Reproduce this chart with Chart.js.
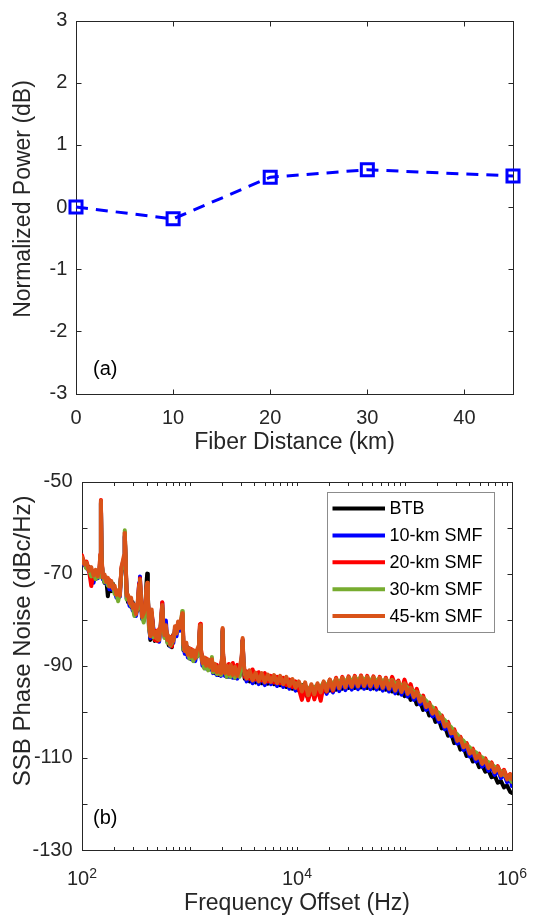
<!DOCTYPE html>
<html><head><meta charset="utf-8">
<script src="https://cdn.jsdelivr.net/npm/chart.js@4.4.1/dist/chart.umd.min.js"></script>
<style>
html,body{margin:0;padding:0;background:#fff;}
.wrap{position:absolute;left:0;width:536px;height:460px;}
#wrapA{top:0}
#wrapB{top:460px}
canvas{display:block}
</style></head><body>
<div class="wrap" id="wrapA"><canvas id="cA" width="536" height="460"></canvas></div>
<div class="wrap" id="wrapB"><canvas id="cB" width="536" height="460"></canvas></div>
<script>
// ---------- Panel (a) data ----------
const fiberKm = [0, 10, 20, 30, 45];
const normPowerDb = [0, -0.19, 0.48, 0.60, 0.50];
const xTicksA = [0, 10, 20, 30, 40];
const yTicksA = [-3, -2, -1, 0, 1, 2, 3];
const xTitleA = 'Fiber Distance (km)';
const yTitleA = 'Normalized Power (dB)';
const panelLabelA = '(a)';

// ---------- Panel (b) data ----------
const freqHz = [
100,105,110,116,122,128,134,140,145,148,
150,152,156,162,168,174,180,187,194,201,
209,217,225,233,240,246,250,254,260,268,
277,286,296,307,318,330,340,346,352,362,
375,388,398,404,410,420,432,445,460,475,
490,506,522,538,550,558,568,585,603,622,
642,663,685,708,732,757,783,810,838,856,
866,878,905,935,965,1000,1040,1085,1130,1180,
1225,1250,1262,1275,1320,1375,1430,1490,1550,1595,
1615,1650,1720,1800,1880,1960,2010,2032,2055,2130,
2220,2320,2420,2530,2650,2780,2920,3060,3120,3180,
3260,3400,3620,3860,4120,4400,4700,5020,5360,5720,
6110,6530,6970,7450,7960,8500,9080,9700,10400,11100,
11900,12700,13600,14500,15500,16600,17700,18900,20200,21600,
23100,24700,26400,28200,30200,32300,34500,36900,39400,42100,
45000,48100,51400,55000,58800,62800,67100,71800,76700,82000,
87600,93700,100000,107000,114000,122000,130000,139000,149000,159000,
170000,182000,194000,208000,222000,237000,254000,271000,290000,310000,
331000,354000,378000,404000,432000,462000,494000,528000,564000,603000,
645000,689000,737000,788000,842000,900000,962000,1000000];

const pnBTB = [
-67.0,-67.4,-68.8,-68.6,-70.2,-69.6,-71.2,-70.0,-70.6,-67.0,
-54.8,-67.2,-70.4,-72.0,-71.2,-74.9,-72.0,-73.8,-72.2,-74.0,
-73.8,-75.4,-73.6,-69.5,-68.6,-67.2,-62.0,-67.0,-74.0,-76.2,
-75.6,-77.2,-76.2,-78.8,-77.4,-78.0,-73.4,-71.9,-75.6,-78.4,
-80.2,-77.6,-72.0,-70.0,-75.0,-80.0,-84.4,-79.0,-82.4,-84.6,
-82.8,-84.6,-82.6,-82.4,-79.3,-77.5,-81.2,-82.4,-83.0,-83.2,
-85.6,-83.8,-86.0,-83.2,-83.6,-81.8,-82.0,-80.8,-81.4,-79.5,
-81.4,-86.6,-85.6,-87.4,-86.0,-88.4,-86.8,-88.8,-87.0,-88.0,
-86.3,-82.2,-82.0,-87.0,-88.4,-90.4,-88.8,-90.6,-89.0,-90.4,
-89.5,-90.0,-91.6,-90.2,-92.0,-90.6,-88.8,-82.6,-88.3,-90.8,
-92.4,-90.6,-92.4,-90.4,-92.6,-91.0,-92.2,-88.9,-84.6,-89.8,
-92.8,-91.6,-93.4,-91.8,-93.6,-92.0,-93.8,-92.2,-93.9,-92.6,
-94.0,-92.8,-94.2,-93.0,-94.6,-93.2,-95.0,-93.6,-95.4,-94.2,
-95.8,-97.0,-95.6,-94.6,-96.0,-94.4,-95.6,-94.2,-95.4,-93.8,
-95.2,-93.6,-95.0,-93.4,-94.8,-93.3,-94.8,-93.2,-94.7,-93.2,
-94.8,-93.3,-94.9,-93.4,-95.0,-93.6,-95.2,-93.9,-95.6,-94.4,
-96.0,-94.8,-96.6,-95.6,-97.4,-96.4,-98.4,-97.6,-99.6,-98.8,
-100.8,-100.2,-102.2,-101.6,-103.6,-103.0,-105.2,-104.6,-106.8,-106.2,
-108.2,-107.6,-109.6,-109.0,-110.8,-110.2,-112.0,-111.6,-113.0,-112.6,
-114.2,-113.8,-115.4,-115.0,-116.4,-116.0,-117.4,-117.6];

const pnSMF10 = [
-66.9,-68.2,-68.0,-69.6,-69.4,-72.0,-70.0,-71.0,-70.4,-66.6,
-54.5,-66.9,-71.2,-71.0,-72.2,-71.8,-73.4,-72.6,-73.6,-73.4,
-75.2,-74.4,-75.0,-69.0,-68.3,-67.0,-61.8,-66.6,-75.4,-75.2,
-77.0,-75.8,-78.0,-77.6,-79.2,-76.6,-72.0,-70.6,-75.2,-79.8,
-79.2,-77.5,-73.8,-72.8,-76.2,-81.4,-84.0,-78.8,-81.6,-83.6,
-84.2,-82.9,-84.8,-81.6,-79.0,-76.3,-80.0,-83.8,-80.2,-84.8,
-84.2,-85.8,-84.4,-85.0,-82.0,-83.6,-81.0,-82.4,-80.4,-79.2,
-81.0,-85.9,-87.4,-85.6,-88.2,-86.8,-88.6,-87.2,-89.0,-87.0,
-86.0,-82.0,-81.8,-86.9,-90.0,-88.8,-90.6,-89.2,-90.8,-89.6,
-89.3,-91.6,-90.2,-92.0,-90.8,-92.2,-88.6,-82.3,-88.0,-92.2,
-90.6,-92.4,-90.4,-92.6,-90.8,-92.8,-91.2,-88.6,-84.5,-89.6,
-91.8,-93.4,-91.6,-93.8,-92.0,-94.0,-92.2,-94.2,-92.5,-94.0,
-92.6,-94.4,-92.8,-94.6,-93.0,-95.0,-93.5,-95.4,-94.0,-96.2,
-94.2,-96.8,-94.6,-96.8,-94.4,-96.4,-94.0,-96.1,-93.6,-95.8,
-93.4,-95.5,-93.2,-95.3,-93.1,-95.2,-93.0,-95.1,-92.9,-95.0,
-93.0,-95.1,-93.1,-95.2,-93.2,-95.4,-93.4,-95.6,-93.8,-96.0,
-94.1,-96.3,-94.4,-96.7,-95.4,-97.4,-96.2,-98.4,-97.5,-99.6,
-98.9,-101.0,-100.2,-102.2,-101.7,-103.8,-103.2,-105.3,-104.8,-106.9,
-106.3,-108.3,-107.7,-109.7,-108.9,-110.8,-110.0,-111.9,-111.0,-112.8,
-111.8,-113.7,-112.6,-114.4,-113.4,-115.3,-114.2,-116.1];

const pnSMF20 = [
-66.0,-67.8,-67.4,-69.2,-72.7,-69.8,-70.8,-69.6,-70.0,-65.8,
-54.0,-66.3,-70.4,-70.6,-71.4,-71.2,-71.4,-72.0,-72.6,-73.2,
-74.0,-75.0,-74.0,-68.8,-67.6,-66.6,-61.0,-66.4,-74.2,-75.4,
-75.8,-76.8,-76.6,-78.0,-78.2,-76.6,-72.2,-71.0,-74.4,-78.8,
-80.0,-77.2,-73.4,-72.3,-75.8,-80.2,-83.2,-78.4,-82.2,-84.4,
-82.4,-84.6,-82.0,-82.4,-78.7,-76.2,-81.2,-82.4,-82.0,-83.4,
-85.2,-83.8,-85.8,-83.4,-82.8,-81.4,-81.6,-81.0,-80.8,-79.0,
-80.9,-85.0,-86.4,-86.2,-86.8,-87.6,-86.4,-88.4,-86.8,-87.6,
-85.9,-81.0,-80.9,-86.2,-88.8,-89.8,-88.4,-90.2,-88.8,-90.0,
-89.0,-90.2,-91.2,-89.8,-91.8,-90.4,-88.3,-82.0,-87.8,-90.2,
-91.6,-89.6,-91.6,-89.4,-92.0,-89.8,-91.8,-88.4,-84.3,-89.4,
-92.4,-91.2,-92.8,-90.8,-93.0,-91.4,-93.2,-91.6,-93.4,-92.2,
-93.6,-92.4,-93.8,-92.6,-94.2,-93.0,-94.6,-93.4,-95.0,-97.4,
-94.8,-97.5,-94.6,-97.3,-95.0,-97.6,-94.2,-95.6,-93.0,-95.4,
-92.6,-94.8,-92.4,-94.6,-92.3,-94.5,-92.2,-94.4,-92.1,-94.3,
-92.2,-94.4,-92.3,-94.5,-92.4,-94.6,-92.6,-94.8,-92.4,-94.2,
-93.2,-95.4,-93.0,-95.2,-94.0,-96.4,-95.0,-97.4,-96.5,-98.6,
-98.0,-99.8,-99.2,-101.0,-100.8,-102.6,-102.2,-104.0,-103.8,-105.6,
-105.4,-107.0,-106.8,-108.4,-108.0,-109.6,-109.1,-110.7,-110.1,-111.6,
-111.0,-112.6,-111.8,-113.4,-112.6,-114.3,-113.5,-115.2];

const pnSMF30 = [
-66.9,-67.6,-68.9,-69.0,-70.6,-69.8,-71.2,-70.2,-70.8,-66.4,
-54.6,-67.0,-70.4,-71.8,-70.8,-72.6,-72.0,-72.0,-72.4,-74.4,
-74.4,-76.0,-74.0,-69.2,-68.4,-67.0,-60.6,-66.5,-75.6,-75.0,
-75.6,-77.0,-77.2,-79.2,-78.4,-77.6,-73.0,-71.8,-75.8,-79.2,
-80.6,-77.8,-73.8,-72.7,-76.4,-82.0,-83.4,-79.0,-83.8,-83.6,
-83.4,-84.2,-83.6,-82.2,-79.4,-77.3,-81.3,-84.0,-81.8,-85.0,
-84.8,-85.6,-85.0,-84.4,-82.4,-82.8,-81.2,-81.2,-80.2,-78.1,
-81.2,-86.4,-86.6,-86.8,-87.4,-88.4,-87.2,-89.0,-87.6,-88.0,
-86.5,-82.3,-82.0,-87.2,-89.0,-90.6,-89.2,-91.0,-89.6,-90.2,
-88.1,-91.4,-90.6,-91.8,-91.4,-92.0,-88.9,-82.4,-88.4,-91.0,
-92.4,-90.6,-92.4,-90.8,-92.6,-91.0,-92.4,-88.9,-84.8,-89.9,
-91.8,-92.4,-92.0,-92.6,-92.2,-92.8,-92.4,-93.0,-92.6,-93.2,
-92.8,-93.4,-93.0,-93.6,-93.2,-93.8,-93.4,-94.0,-93.8,-94.4,
-94.6,-95.0,-94.4,-94.8,-94.2,-94.6,-93.6,-94.4,-93.2,-94.0,
-93.0,-93.6,-92.8,-93.4,-92.6,-93.3,-92.5,-93.2,-92.4,-93.1,
-92.5,-93.2,-92.6,-93.3,-92.7,-93.5,-92.9,-93.7,-93.1,-94.0,
-93.6,-94.4,-94.0,-94.8,-95.0,-95.6,-95.8,-96.6,-97.0,-97.6,
-98.4,-99.0,-99.8,-100.2,-101.3,-101.8,-102.8,-103.3,-104.4,-104.9,
-105.9,-106.3,-107.3,-107.7,-108.5,-108.8,-109.6,-109.9,-110.6,-110.9,
-111.5,-111.9,-112.5,-112.9,-113.7,-114.1,-114.7,-115.2];

const pnSMF45 = [
-66.4,-68.0,-67.6,-69.4,-68.6,-70.4,-69.2,-70.6,-69.0,-66.0,
-54.2,-66.5,-70.8,-70.2,-71.8,-70.9,-72.8,-71.6,-73.2,-72.6,
-74.6,-73.6,-74.8,-68.5,-67.2,-66.0,-61.2,-65.8,-74.8,-74.6,
-76.4,-75.2,-77.4,-76.8,-78.8,-76.0,-72.5,-71.2,-74.8,-79.4,
-78.6,-77.0,-73.0,-72.0,-75.5,-81.0,-83.6,-77.8,-83.2,-82.6,
-84.0,-82.4,-84.4,-81.2,-78.5,-76.8,-80.5,-83.4,-81.2,-84.4,
-83.6,-85.4,-83.8,-84.6,-81.4,-83.0,-80.4,-81.8,-79.8,-78.6,
-80.5,-85.4,-86.8,-85.0,-87.6,-86.2,-88.0,-86.6,-88.4,-86.4,
-85.5,-81.4,-81.2,-86.4,-89.4,-88.2,-90.0,-88.6,-90.2,-89.0,
-88.6,-91.0,-89.6,-91.4,-90.2,-91.6,-88.0,-81.8,-87.5,-91.6,
-90.0,-91.8,-89.8,-92.0,-90.2,-92.2,-90.6,-88.0,-84.0,-89.0,
-91.2,-92.8,-91.0,-93.2,-91.5,-93.4,-91.6,-93.6,-91.9,-93.5,
-92.0,-93.8,-92.2,-94.0,-92.4,-94.4,-92.9,-94.8,-93.4,-95.6,
-93.6,-96.4,-94.0,-96.2,-93.8,-95.8,-93.4,-95.5,-93.0,-95.2,
-92.8,-94.9,-92.6,-94.7,-92.5,-94.6,-92.4,-94.5,-92.3,-94.4,
-92.4,-94.5,-92.5,-94.6,-92.6,-94.8,-92.8,-95.0,-93.2,-95.4,
-93.5,-95.7,-93.8,-96.1,-94.8,-96.8,-95.6,-97.8,-96.9,-99.0,
-98.3,-100.4,-99.6,-101.6,-101.1,-103.2,-102.6,-104.7,-104.2,-106.3,
-105.7,-107.7,-107.1,-109.1,-108.3,-110.2,-109.4,-111.3,-110.4,-112.2,
-111.2,-113.1,-112.0,-113.8,-112.8,-114.7,-113.6,-114.6];

const seriesNames = ['BTB', '10-km SMF', '20-km SMF', '30-km SMF', '45-km SMF'];
const seriesColors = ['#000000', '#0000FF', '#FF0000', '#77AC30', '#D95319'];
const xTicksB = [100, 10000, 1000000];
const xTickBaseB = '10';
const xTickExpB = ['2', '4', '6'];
const yTicksB = [-130, -120, -110, -100, -90, -80, -70, -60, -50];
const yTickLabelsB = ['-130', '', '-110', '', '-90', '', '-70', '', '-50'];
const xTitleB = 'Frequency Offset (Hz)';
const yTitleB = 'SSB Phase Noise (dBc/Hz)';
const panelLabelB = '(b)';

// ---------- styling ----------
const FONT = "'Liberation Sans', Arial, Helvetica, sans-serif";
const AX = '#262626';
const TICK_SIZE = 20, TITLE_SIZE = 23, LEG_SIZE = 18;

function px(v){ return Math.round(v) + 0.5; }

function drawFrame(chart, xTickVals, xLen, yTickVals, yLen){
  const {ctx, chartArea: a, scales: {x, y}} = chart;
  ctx.save();
  ctx.strokeStyle = AX; ctx.lineWidth = 1;
  const L = px(a.left), R = px(a.right), T = px(a.top), B = px(a.bottom);
  ctx.beginPath();
  xTickVals.forEach(v => {
    const p = px(x.getPixelForValue(v));
    ctx.moveTo(p, B); ctx.lineTo(p, B - xLen);
    ctx.moveTo(p, T); ctx.lineTo(p, T + xLen);
  });
  yTickVals.forEach(v => {
    const p = px(y.getPixelForValue(v));
    ctx.moveTo(L, p); ctx.lineTo(L + yLen, p);
    ctx.moveTo(R, p); ctx.lineTo(R - yLen, p);
  });
  ctx.stroke();
  ctx.strokeRect(L, T, R - L, B - T);
  ctx.restore();
}

function drawYTitle(ctx, text, size, cx, cy){
  ctx.save();
  ctx.translate(cx, cy); ctx.rotate(-Math.PI / 2);
  ctx.font = size + 'px ' + FONT;
  ctx.fillStyle = AX; ctx.textAlign = 'center'; ctx.textBaseline = 'middle';
  ctx.fillText(text, 0, 0);
  ctx.restore();
}

// ---------- Chart (a) ----------
const pluginA = {
  id: 'frameA',
  beforeDatasetsDraw(chart){ drawFrame(chart, xTicksA, 5, yTicksA, 5); },
  afterDraw(chart){
    const ctx = chart.ctx;
    drawYTitle(ctx, yTitleA, TITLE_SIZE, 23.5, 199);
    ctx.save();
    ctx.font = TICK_SIZE + 'px ' + FONT; ctx.fillStyle = '#000';
    ctx.textAlign = 'left'; ctx.textBaseline = 'alphabetic';
    ctx.fillText(panelLabelA, 93, 375);
    ctx.restore();
  }
};

new Chart(document.getElementById('cA'), {
  type: 'line',
  data: {
    datasets: [{
      label: 'Normalized Power',
      data: fiberKm.map((x, i) => ({x: x, y: normPowerDb[i]})),
      borderColor: '#0000FF', borderWidth: 3, borderDash: [12, 8],
      pointStyle: 'rect', pointRadius: 8.5, pointBorderWidth: 3,
      pointBorderColor: '#0000FF', pointBackgroundColor: 'rgba(0,0,0,0)',
      fill: false, tension: 0, clip: false
    }]
  },
  options: {
    responsive: false, animation: false, devicePixelRatio: 1, events: [],
    layout: {padding: {top: 14.5, right: 23, left: 0, bottom: 0}},
    plugins: {legend: {display: false}, tooltip: {enabled: false}},
    scales: {
      x: {
        type: 'linear', min: 0, max: 45,
        afterBuildTicks: s => { s.ticks = xTicksA.map(v => ({value: v})); },
        afterFit: s => { s.height = 66.5; },
        grid: {display: false, drawTicks: false}, border: {display: false},
        ticks: {font: {family: FONT, size: TICK_SIZE}, color: AX, padding: 13, maxRotation: 0, autoSkip: false,
                callback: v => String(v)},
        title: {display: true, text: xTitleA, font: {family: FONT, size: TITLE_SIZE}, color: AX, padding: {top: 0, bottom: 3.2}}
      },
      y: {
        type: 'linear', min: -3, max: 3,
        afterBuildTicks: s => { s.ticks = yTicksA.map(v => ({value: v})); },
        afterFit: s => { s.width = 76; },
        grid: {display: false, drawTicks: false}, border: {display: false},
        ticks: {font: {family: FONT, size: TICK_SIZE}, color: AX, padding: 8.6, autoSkip: false,
                callback: v => String(v)},
        title: {display: false}
      }
    }
  },
  plugins: [pluginA]
});

// ---------- Chart (b) ----------
const pnSeries = [pnBTB, pnSMF10, pnSMF20, pnSMF30, pnSMF45];

const xMinorB = [];
for (let d = 2; d < 6; d++) for (let k = 1; k < 10; k++) xMinorB.push(k * Math.pow(10, d));
xMinorB.push(1000000);

const pluginB = {
  id: 'frameB',
  beforeDatasetsDraw(chart){ drawFrame(chart, xMinorB, 3.5, yTicksB, 5); },
  afterDraw(chart){
    const ctx = chart.ctx;
    const xs = chart.scales.x;
    ctx.save();
    ctx.fillStyle = AX; ctx.textBaseline = 'alphabetic'; ctx.textAlign = 'left';
    xTicksB.forEach((v, i) => {
      const p = xs.getPixelForValue(v);
      ctx.font = TICK_SIZE + 'px ' + FONT;
      const w1 = ctx.measureText(xTickBaseB).width;
      ctx.font = '14px ' + FONT;
      const w2 = ctx.measureText(xTickExpB[i]).width;
      const x0 = p - (w1 + w2) / 2;
      ctx.font = TICK_SIZE + 'px ' + FONT;
      ctx.fillText(xTickBaseB, x0, 425);
      ctx.font = '14px ' + FONT;
      ctx.fillText(xTickExpB[i], x0 + w1, 418.3);
    });
    ctx.restore();
    drawYTitle(ctx, yTitleB, 24, 23.5, 180.8);
    ctx.save();
    ctx.font = TICK_SIZE + 'px ' + FONT; ctx.fillStyle = '#000';
    ctx.textAlign = 'left'; ctx.textBaseline = 'alphabetic';
    ctx.fillText(panelLabelB, 93, 364);
    ctx.restore();
    // legend
    ctx.save();
    ctx.fillStyle = '#fff';
    ctx.fillRect(327, 32, 168, 141);
    ctx.strokeStyle = '#8c8c8c'; ctx.lineWidth = 1;
    ctx.strokeRect(327.5, 32.5, 167, 140);
    const rows = [48.5, 75.4, 102.3, 129.2, 156.1];
    ctx.font = LEG_SIZE + 'px ' + FONT;
    ctx.textAlign = 'left'; ctx.textBaseline = 'middle';
    seriesNames.forEach((n, i) => {
      ctx.strokeStyle = seriesColors[i]; ctx.lineWidth = 4; ctx.lineCap = 'butt';
      ctx.beginPath(); ctx.moveTo(332.5, rows[i]); ctx.lineTo(385, rows[i]); ctx.stroke();
      ctx.fillStyle = '#000';
      ctx.fillText(n, 389.5, rows[i] + 0.5);
    });
    ctx.restore();
  }
};

new Chart(document.getElementById('cB'), {
  type: 'line',
  data: {
    datasets: pnSeries.map((arr, si) => ({
      label: seriesNames[si],
      data: freqHz.map((f, i) => ({x: f, y: arr[i]})),
      borderColor: seriesColors[si], borderWidth: 4,
      borderJoinStyle: 'round', borderCapStyle: 'round',
      pointRadius: 0, fill: false, tension: 0,
      order: 5 - si
    }))
  },
  options: {
    responsive: false, animation: false, devicePixelRatio: 1, events: [],
    layout: {padding: {top: 17.3, right: 24, left: 0, bottom: 0}},
    plugins: {legend: {display: false}, tooltip: {enabled: false}},
    scales: {
      x: {
        type: 'logarithmic', min: 100, max: 1000000,
        afterBuildTicks: s => { s.ticks = xTicksB.map(v => ({value: v})); },
        afterFit: s => { s.height = 70; },
        grid: {display: false, drawTicks: false}, border: {display: false},
        ticks: {display: false},
        title: {display: true, text: xTitleB, font: {family: FONT, size: TITLE_SIZE}, color: AX, padding: {top: 0, bottom: 2.2}}
      },
      y: {
        type: 'linear', min: -130, max: -50,
        afterBuildTicks: s => { s.ticks = yTicksB.map(v => ({value: v})); },
        afterFit: s => { s.width = 82; },
        grid: {display: false, drawTicks: false}, border: {display: false},
        ticks: {font: {family: FONT, size: TICK_SIZE}, color: AX, padding: 9.5, autoSkip: false,
                callback: v => { const k = yTicksB.indexOf(v); return k >= 0 ? yTickLabelsB[k] : ''; }},
        title: {display: false}
      }
    }
  },
  plugins: [pluginB]
});
</script>
</body></html>
